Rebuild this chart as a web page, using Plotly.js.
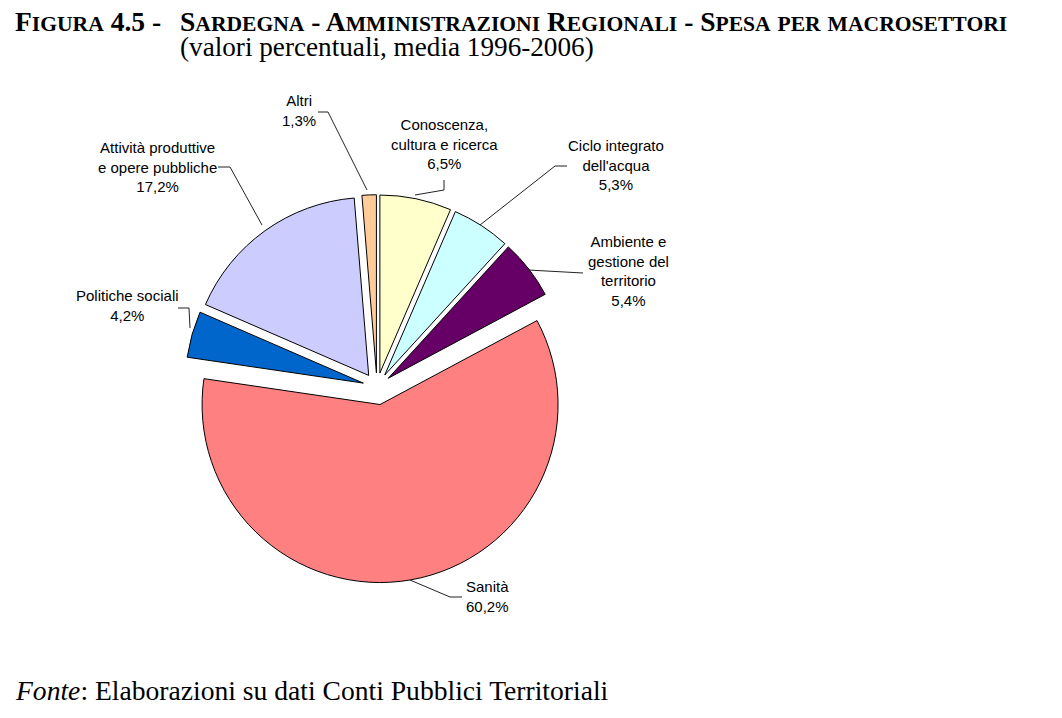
<!DOCTYPE html>
<html>
<head>
<meta charset="utf-8">
<script src="https://cdn.plot.ly/plotly-3.0.1.min.js"></script>
<style>
html,body{margin:0;padding:0;background:#fff;}
#chart{width:1062px;height:718px;}
</style>
</head>
<body>
<div id="chart"></div>
<script>
// ---- data ----
var categories = ["Conoscenza, cultura e ricerca", "Ciclo integrato dell'acqua", "Ambiente e gestione del territorio", "Sanità", "Politiche sociali", "Attività produttive e opere pubbliche", "Altri"];
var labelText = ["Conoscenza,<br>cultura e ricerca", "Ciclo integrato<br>dell'acqua", "Ambiente e<br>gestione del<br>territorio", "Sanità", "Politiche sociali", "Attività produttive<br>e opere pubbliche", "Altri"];
var values = [6.5, 5.3, 5.4, 60.2, 4.2, 17.2, 1.3];
var colors = ["#FFFFCC", "#CCFFFF", "#660066", "#FF8080", "#0066CC", "#CCCCFF", "#FFCC99"];
var pulls = [0.08, 0.08, 0.08, 0.1, 0.08, 0.08, 0.08];

var W = 1062, H = 718;
function px(x){ return x / W; }
function py(y){ return 1 - y / H; }
function fmt(v){ return v.toFixed(1).replace('.', ',') + '%'; }

// manual small caps: capitals at size big, lowercase letters become smaller capitals
function smallCaps(str, big, small){
  var out = '', run = '';
  function flush(){ if (run) { out += '<span style="font-size:' + small + 'px">' + run + '</span>'; run = ''; } }
  var bigRun = '';
  for (var i = 0; i < str.length; i++) {
    var c = str[i];
    if (c !== c.toUpperCase()) { if (bigRun) { out += '<span style="font-size:' + big + 'px">' + bigRun + '</span>'; bigRun = ''; } run += c.toUpperCase(); }
    else { flush(); bigRun += c; }
  }
  flush();
  if (bigRun) out += '<span style="font-size:' + big + 'px">' + bigRun + '</span>';
  return out;
}

// label layout (pixel positions of label centres and leader paths)
var labelPos = [
  {x:444, y:144, line:[[444,180],[444,190],[415,195]]},
  {x:616, y:165, line:[[567,166],[555,166],[480,225]]},
  {x:628, y:271, line:[[583,273],[528,270]]},
  {x:487, y:596, line:[[462,597],[450,597],[410,580]]},
  {x:127, y:305, line:[[178,308],[189,308],[190,328]]},
  {x:157, y:167, line:[[218,167],[230,167],[262,225]]},
  {x:299, y:110, line:[[318,112],[328,112],[367,190]]}
];

var cx = 377, cy = 387, R = 178, maxPull = Math.max.apply(null, pulls);
var half = R * (1 + maxPull);

var trace = {
  type: 'pie',
  labels: categories,
  values: values,
  sort: false,
  direction: 'clockwise',
  rotation: 0,
  pull: pulls,
  marker: {colors: colors, line: {color: '#000000', width: 1}},
  textinfo: 'none',
  hoverinfo: 'none',
  showlegend: false,
  domain: {x: [px(cx - half), px(cx + half)], y: [py(cy + half), py(cy - half)]}
};

var annotations = [];
var shapes = [];
for (var i = 0; i < categories.length; i++) {
  var lp = labelPos[i];
  annotations.push({
    xref: 'paper', yref: 'paper', x: px(lp.x), y: py(lp.y),
    xanchor: 'center', yanchor: 'middle', showarrow: false,
    text: labelText[i] + '<br>' + fmt(values[i]),
    font: {family: 'Liberation Sans, Arial, sans-serif', size: 15, color: '#000'},
    align: 'center'
  });
  var d = '';
  for (var k = 0; k < lp.line.length; k++) {
    d += (k === 0 ? 'M ' : ' L ') + px(lp.line[k][0]) + ' ' + py(lp.line[k][1]);
  }
  shapes.push({type: 'path', xref: 'paper', yref: 'paper', path: d, line: {color: '#222222', width: 1}});
}

// titles
var serif = 'Liberation Serif, Times New Roman, serif';
var titleNum = 'Figura 4.5 -';
var titleMain = 'Sardegna - Amministrazioni Regionali - Spesa per macrosettori';
var subTitle = '(valori percentuali, media 1996-2006)';
var sourceNote = '<i>Fonte</i>: Elaborazioni su dati Conti Pubblici Territoriali';

annotations.push({
  xref: 'paper', yref: 'paper', x: px(13), y: py(4), xanchor: 'left', yanchor: 'top', showarrow: false,
  text: '<b>' + smallCaps(titleNum, 27.5, 21.6) + '</b>',
  font: {family: serif, size: 19, color: '#000'}, align: 'left'
});
annotations.push({
  xref: 'paper', yref: 'paper', x: px(178), y: py(4), xanchor: 'left', yanchor: 'top', showarrow: false,
  text: '<b>' + smallCaps(titleMain, 27.5, 21.6) + '</b><br><span style="font-size:27.2px">' + subTitle + '</span>',
  font: {family: serif, size: 19.5, color: '#000'}, align: 'left'
});
annotations.push({
  xref: 'paper', yref: 'paper', x: px(13), y: py(690), xanchor: 'left', yanchor: 'middle', showarrow: false,
  text: sourceNote,
  font: {family: serif, size: 27.6, color: '#000'}
});

var layout = {
  width: W, height: H,
  margin: {l: 0, r: 0, t: 0, b: 0},
  paper_bgcolor: '#ffffff',
  plot_bgcolor: '#ffffff',
  showlegend: false,
  annotations: annotations,
  shapes: shapes
};

Plotly.newPlot('chart', [trace], layout, {displayModeBar: false, staticPlot: true});
</script>
</body>
</html>
